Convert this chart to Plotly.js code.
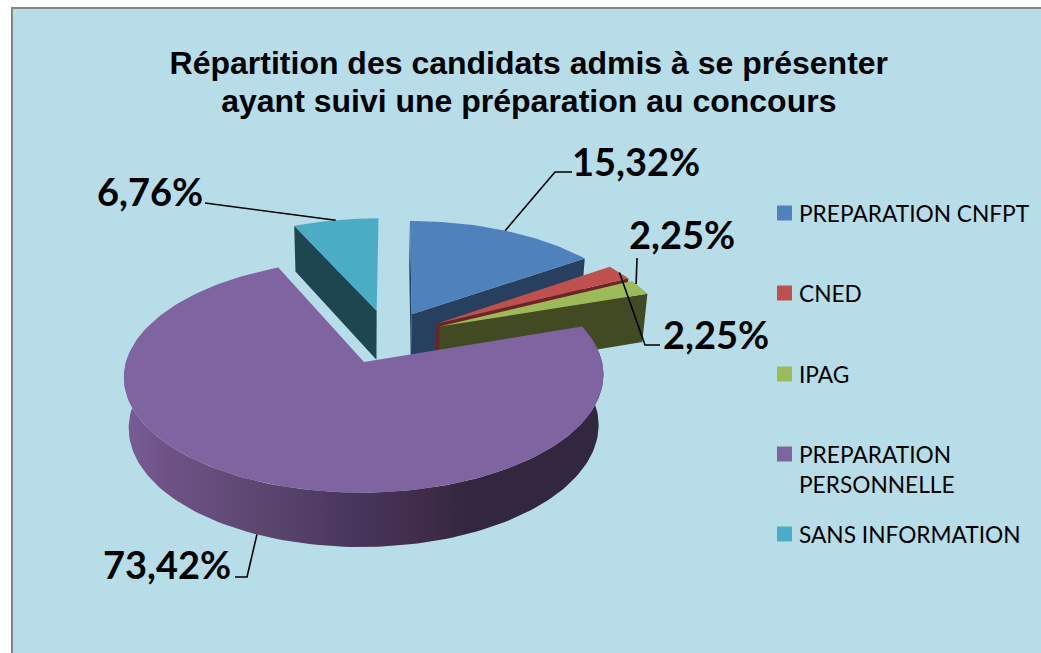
<!DOCTYPE html>
<html>
<head>
<meta charset="utf-8">
<script src="https://cdn.plot.ly/plotly-3.0.1.min.js"></script>
<style>html,body{margin:0;padding:0;background:#fff}#chart{width:1041px;height:653px}</style>
</head>
<body>
<div id="chart"></div>
<script>
// ---- data ----
const categories = ['PREPARATION CNFPT', 'CNED', 'IPAG', 'PREPARATION<br>PERSONNELLE', 'SANS INFORMATION'];
const shares = [15.32, 2.25, 2.25, 73.42, 6.76];

// ---- styling ----
const topColors  = ['#4F81BD', '#C0504D', '#9BBB59', '#8064A2', '#4BACC6'];
const sideColors = ['#274060', '#6E2424', '#414A22', '#32273F', '#1E4650'];
const pulls = [[0.205, 0.437], [0.313, 0.347], [0.326, 0.32], [0, 0], [0.05, 0.47]];
const legendY = [213, 293, 374, 454, 534];
const labelPos = [[571, 161], [662, 334], [628, 234], [102, 564], [96, 191]];
const elbows = [
  [[555, 172], [572, 172]],
  [[645, 345], [660, 345]],
  [[637, 258]],
  [[247, 577], [235, 577]],
  [[225, 205], [205, 203]]
];
const leaderAngleShift = [0, 0, 2, 0, 0];
const BG = '#B7DDE8', TITLE_FONT = 'Liberation Sans, Arial, sans-serif', BODY_FONT = 'Lato, Carlito, Calibri, sans-serif';

// ---- projection of the tilted pie onto the pixel axes ----
const P = {cx: 364, cy: 362, rx: 238, ry: 115, persp: 0.12, depth: 51.5, shrink: 0.02, skew: 3};
function project(X, S, low) {
  const w = 1 + P.persp * S + (low ? P.shrink : 0);
  return [P.cx + P.rx * X / w + P.skew * S, P.cy + (-P.ry * S + (low ? P.depth : 0)) / w];
}
function rim(i, deg, low) {
  const a = deg * Math.PI / 180;
  return project(pulls[i][0] + Math.cos(a), pulls[i][1] + Math.sin(a), low);
}
function apex(i, low) { return project(pulls[i][0], pulls[i][1], low); }
function arc(i, from, to, low) {
  const n = Math.max(4, Math.ceil(Math.abs(to - from) / 1.5)), pts = [];
  for (let k = 0; k <= n; k++) pts.push(rim(i, from + (to - from) * k / n, low));
  return pts;
}
function polyTrace(pts, color, name, extra) {
  const closed = pts.concat([pts[0]]);
  return Object.assign({
    type: 'scatter', mode: 'lines', x: closed.map(p => p[0]), y: closed.map(p => p[1]),
    fill: 'toself', fillcolor: color, line: {width: 0, color: color}, hoverinfo: 'skip', name: name
  }, extra || {});
}

// angles: first slice starts at 12 o'clock, clockwise
const ranges = [];
let acc = 0;
shares.forEach(v => { ranges.push([90 - acc * 3.6, 90 - (acc + v) * 3.6]); acc += v; });

const traces = [];
function radialFace(i, deg) {
  return polyTrace([apex(i, false), rim(i, deg, false), rim(i, deg, true), apex(i, true)], sideColors[i], categories[i]);
}
function topFace(i) {
  const [a, b] = ranges[i];
  return polyTrace([apex(i, false)].concat(arc(i, a, b, false)), topColors[i], categories[i]);
}
// painter's order: back slices first, the large front slice last
traces.push(radialFace(4, ranges[4][0]));
traces.push(topFace(4));
traces.push(radialFace(0, ranges[0][0]));
traces.push(radialFace(0, ranges[0][1]));
traces.push(topFace(0));
traces.push(radialFace(1, ranges[1][1]));
traces.push(topFace(1));
traces.push(radialFace(2, ranges[2][1]));
traces.push(topFace(2));
// outer wall of the large slice with its horizontal shading
const wallTop = arc(3, 175, 365, false), wallLow = arc(3, 175, 365, true).reverse();
traces.push(polyTrace(wallTop.concat(wallLow), sideColors[3], categories[3], {
  fillgradient: {type: 'horizontal', colorscale: [
    [0, '#7A5C95'], [0.09, '#6E5286'], [0.28, '#5D4771'], [0.5, '#47345A'],
    [0.64, '#3F2B47'], [0.72, '#32273F'], [1, '#32273F']]}
}));
traces.push(topFace(3));

// leader lines, from each slice's rim at its mid angle
shares.forEach((v, i) => {
  const mid = (ranges[i][0] + ranges[i][1]) / 2 + leaderAngleShift[i];
  const pts = [rim(i, mid, i === 3)].concat(elbows[i]);
  traces.push({type: 'scatter', mode: 'lines', x: pts.map(p => p[0]), y: pts.map(p => p[1]),
    line: {color: '#000', width: 1.6}, hoverinfo: 'skip', name: 'leader'});
});

// legend keys
traces.push({type: 'scatter', mode: 'markers', x: categories.map(() => 784.5), y: legendY,
  marker: {symbol: 'square', size: 15, color: topColors, line: {width: 0}}, hoverinfo: 'skip', name: 'legend'});

const annotations = [];
shares.forEach((v, i) => annotations.push({
  x: labelPos[i][0], y: labelPos[i][1], xref: 'x', yref: 'y', xanchor: 'left', yanchor: 'middle',
  showarrow: false, borderpad: 0, text: '<b>' + v.toFixed(2).replace('.', ',') + '%</b>',
  font: {family: BODY_FONT, size: 38, color: '#000'}
}));
categories.forEach((c, i) => annotations.push({
  x: 798, y: legendY[i] + (c.includes('<br>') ? 15 : 0), xref: 'x', yref: 'y', xanchor: 'left', yanchor: 'middle', align: 'left',
  showarrow: false, borderpad: 0, text: c,
  font: {family: BODY_FONT, size: 22.7, color: '#000'}
}));

const layout = {
  width: 1041, height: 653, margin: {l: 0, r: 0, t: 0, b: 0}, showlegend: false,
  paper_bgcolor: '#fff', plot_bgcolor: '#fff',
  title: {text: '<b>Répartition des candidats admis à se présenter<br>ayant suivi une préparation au concours</b>',
    font: {family: TITLE_FONT, size: 32, color: '#000'}, x: 0.508, xanchor: 'center', y: 0.89, yanchor: 'middle'},
  xaxis: {range: [0, 1041], visible: false, fixedrange: true},
  yaxis: {range: [653, 0], visible: false, fixedrange: true},
  shapes: [{type: 'rect', xref: 'x', yref: 'y', x0: 12, y0: 8, x1: 1060, y1: 680, layer: 'below',
    fillcolor: BG, line: {color: '#868686', width: 2}}],
  annotations: annotations
};
Plotly.newPlot('chart', traces, layout, {displayModeBar: false, responsive: false}).then(() => {
  // the source's title has tighter line spacing than Plotly's fixed 1.3em
  const lines = document.querySelectorAll('.gtitle tspan.line');
  if (lines.length === 2) {
    const y0 = parseFloat(lines[0].getAttribute('y')), y1 = parseFloat(lines[1].getAttribute('y'));
    lines[0].setAttribute('y', y0 + 1.8);
    lines[1].setAttribute('y', y1 - 1.8);
  }
});
</script>
</body>
</html>
